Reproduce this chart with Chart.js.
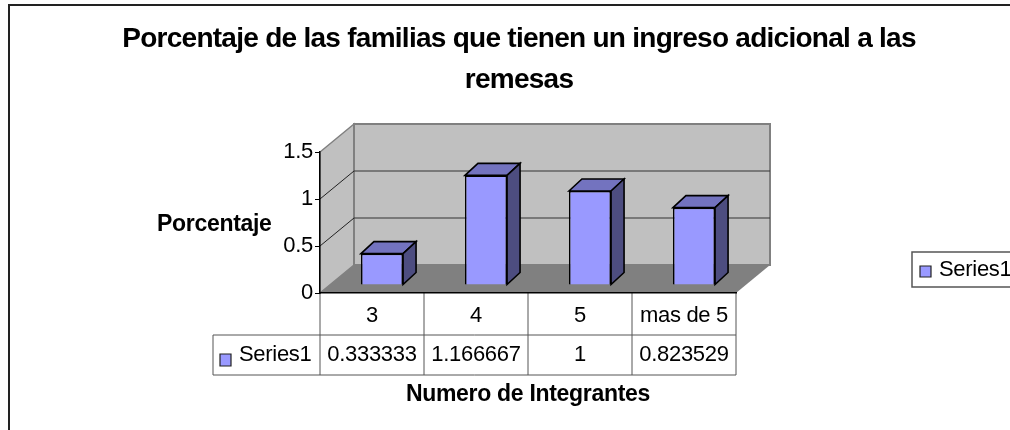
<!DOCTYPE html>
<html>
<head>
<meta charset="utf-8">
<title>Porcentaje de las familias</title>
<script src="https://cdn.jsdelivr.net/npm/chart.js@4"></script>
<style>
    html, body { margin: 0; padding: 0; background: #fff; overflow: hidden; }
    #wrap { width: 1010px; height: 430px; overflow: hidden; }
    canvas { display: block; }
</style>
</head>
<body>
<div id="wrap"><canvas id="remesasChart" width="1038" height="440"></canvas></div>
<script>
// data
const categories = ['3', '4', '5', 'mas de 5'];
const seriesName = 'Series1';
const seriesValues = [0.333333, 1.166667, 1, 0.823529];
const yTicks = [0, 0.5, 1, 1.5];
const titleLines = ['Porcentaje de las familias que tienen un ingreso adicional a las', 'remesas'];
const yTitle = 'Porcentaje';
const xTitle = 'Numero de Integrantes';

const FONT = '"Liberation Sans", Arial, sans-serif';
const DEPTH_X = 34, DEPTH_Y = 28;    // back wall offset
const BAR_X = 10, BAR_Y = 8;         // where the bars stand on the floor
const SIDE_X = 13, SIDE_Y = 12;      // bar depth

function poly(ctx, pts, fill, stroke, lw) {
    ctx.beginPath();
    pts.forEach((p, i) => i ? ctx.lineTo(p[0], p[1]) : ctx.moveTo(p[0], p[1]));
    ctx.closePath();
    if (fill) { ctx.fillStyle = fill; ctx.fill(); }
    if (stroke) { ctx.strokeStyle = stroke; ctx.lineWidth = lw || 1; ctx.stroke(); }
}

function line(ctx, x1, y1, x2, y2, color, lw) {
    ctx.beginPath();
    ctx.moveTo(x1, y1);
    ctx.lineTo(x2, y2);
    ctx.strokeStyle = color;
    ctx.lineWidth = lw || 1;
    ctx.stroke();
}

const excel3d = {
    id: 'excel3d',
    // frame, walls, floor, data table and legend go under the axes
    beforeDraw(chart) {
        const ctx = chart.ctx, xs = chart.scales.x, ys = chart.scales.y;
        const l = xs.left, r = xs.right, b = ys.getPixelForValue(0), t = ys.getPixelForValue(1.5);
        ctx.save();
        ctx.fillStyle = '#fff';
        ctx.fillRect(0, 0, chart.width, chart.height);
        ctx.strokeStyle = '#222';
        ctx.lineWidth = 2;
        ctx.strokeRect(9, 5, 1019, 430);

        // title is centred on the full chart, which runs past the crop
        ctx.fillStyle = '#000';
        ctx.font = 'bold 28px ' + FONT;
        ctx.textAlign = 'center';
        ctx.textBaseline = 'alphabetic';
        ctx.letterSpacing = '-0.73px';
        ctx.fillText(titleLines[0], 519, 47);
        ctx.fillText(titleLines[1], 519, 88);

        // side wall, back wall, floor
        poly(ctx, [[l, b], [l, t], [l + DEPTH_X, t - DEPTH_Y], [l + DEPTH_X, b - DEPTH_Y]], '#c0c0c0', '#808080', 1.5);
        poly(ctx, [[l + DEPTH_X, t - DEPTH_Y], [r + DEPTH_X, t - DEPTH_Y], [r + DEPTH_X, b - DEPTH_Y], [l + DEPTH_X, b - DEPTH_Y]], '#c0c0c0', '#808080', 2);
        poly(ctx, [[l, b], [l + DEPTH_X, b - DEPTH_Y], [r + DEPTH_X, b - DEPTH_Y], [r, b]], '#808080');

        // gridlines wrap round the two walls
        yTicks.slice(1, -1).forEach(v => {
            const y = ys.getPixelForValue(v);
            line(ctx, l, y, l + DEPTH_X, y - DEPTH_Y, '#222');
            line(ctx, l + DEPTH_X, y - DEPTH_Y, r + DEPTH_X, y - DEPTH_Y, '#333', 1.2);
        });

        // data table
        const row1 = b + 42, row2 = b + 82, tableLeft = 213;
        line(ctx, l, b, l, row2, '#555');
        categories.forEach((c, i) => {
            const x = xs.getPixelForValue(i) + (xs.getPixelForValue(1) - xs.getPixelForValue(0)) / 2;
            line(ctx, x, b, x, row2, '#555');
        });
        line(ctx, tableLeft, row1, r, row1, '#555');
        line(ctx, tableLeft, row2, r, row2, '#555');
        line(ctx, tableLeft, row1, tableLeft, row2, '#555');

        ctx.letterSpacing = '-0.3px';
        ctx.fillStyle = '#000';
        ctx.font = '22px ' + FONT;
        ctx.textBaseline = 'middle';
        ctx.textAlign = 'center';
        seriesValues.forEach((v, i) => ctx.fillText(String(v), xs.getPixelForValue(i), row1 + 20));
        ctx.textAlign = 'left';
        ctx.fillText(seriesName, 239, row1 + 20);
        poly(ctx, [[220, row1 + 19], [231, row1 + 19], [231, row1 + 31], [220, row1 + 31]], '#9999ff', '#222', 1.2);

        // legend, runs off the right edge like the source
        poly(ctx, [[912, 252], [1024, 252], [1024, 287], [912, 287]], '#fff', '#555', 1.5);
        poly(ctx, [[920, 266], [931, 266], [931, 277], [920, 277]], '#9999ff', '#222', 1.2);
        ctx.fillStyle = '#000';
        ctx.fillText(seriesName, 939, 270);

        // y title is horizontal in the source
        ctx.font = 'bold 23px ' + FONT;
        ctx.textAlign = 'left';
        ctx.textBaseline = 'alphabetic';
        ctx.fillText(yTitle, 157, 231);
        ctx.restore();
        ctx.letterSpacing = '-0.3px';
    },
    // bars stand a little behind the front of the floor
    beforeDatasetsDraw(chart) {
        chart.ctx.save();
        chart.ctx.translate(BAR_X, -BAR_Y);
    },
    afterDatasetsDraw(chart) {
        const ctx = chart.ctx;
        chart.getDatasetMeta(0).data.forEach(bar => {
            const x0 = bar.x - bar.width / 2, x1 = bar.x + bar.width / 2;
            poly(ctx, [[x0, bar.y], [x0 + SIDE_X, bar.y - SIDE_Y], [x1 + SIDE_X, bar.y - SIDE_Y], [x1, bar.y]], '#7373bf', '#000', 1.6);
            poly(ctx, [[x1, bar.y], [x1 + SIDE_X, bar.y - SIDE_Y], [x1 + SIDE_X, bar.base - SIDE_Y], [x1, bar.base]], '#4d4d80', '#000', 1.6);
        });
        ctx.restore();
    }
};

const chart = new Chart(document.getElementById('remesasChart').getContext('2d'), {
    type: 'bar',
    data: {
        labels: categories,
        datasets: [{
            label: seriesName,
            data: seriesValues,
            backgroundColor: '#9999ff',
            borderColor: '#000',
            borderWidth: 1.6,
            categoryPercentage: 1,
            barPercentage: 0.405,
            clip: false
        }]
    },
    options: {
        responsive: false,
        animation: false,
        layout: { padding: { left: 260, right: 302, top: 152, bottom: 32 } },
        plugins: {
            legend: { display: false },
            tooltip: { enabled: false },
            title: { display: false }
        },
        scales: {
            x: {
                offset: true,
                grid: { display: false },
                border: { display: true, color: '#000', width: 1.5 },
                ticks: { color: '#000', font: { family: FONT, size: 22 }, padding: 2, maxRotation: 0 },
                title: {
                    display: true,
                    text: xTitle,
                    color: '#000',
                    font: { family: FONT, size: 23, weight: 'bold' },
                    padding: { top: 0, bottom: 0 }
                },
                afterFit(scale) { scale.height = 115; }
            },
            y: {
                min: 0,
                max: 1.5,
                grid: { drawOnChartArea: false, color: '#000', tickLength: 5 },
                border: { display: true, color: '#000', width: 1.5 },
                afterBuildTicks(scale) { scale.ticks = yTicks.map(v => ({ value: v })); },
                ticks: { color: '#000', font: { family: FONT, size: 22 }, padding: 2, callback: v => String(v) },
                afterFit(scale) { scale.width = 60; }
            }
        }
    },
    plugins: [excel3d]
});
</script>
</body>
</html>
